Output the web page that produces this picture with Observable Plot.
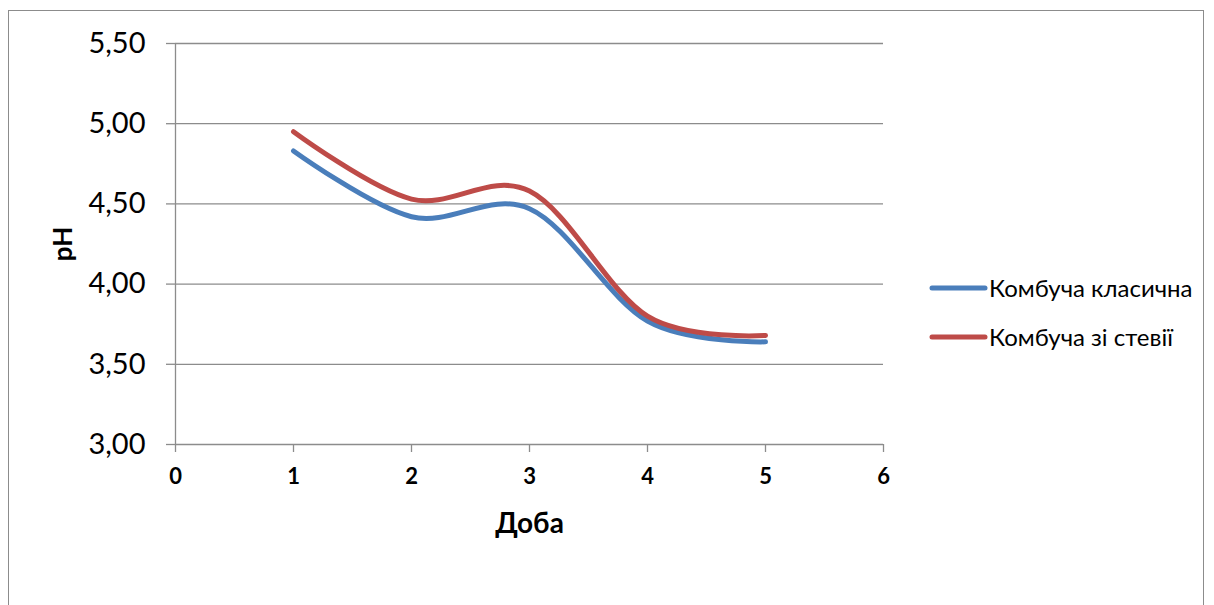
<!DOCTYPE html>
<html>
<head>
<meta charset="utf-8">
<script src="https://cdn.jsdelivr.net/npm/d3@7"></script>
<script src="https://cdn.jsdelivr.net/npm/@observablehq/plot@0.6"></script>
<style>
  body { margin: 0; background: #fff; }
  #wrap { position: relative; width: 1214px; height: 605px; overflow: hidden; font-family: Lato, "Open Sans", sans-serif; }
  #frame { position: absolute; left: 8px; top: 10px; width: 1196px; height: 640px; border: 1.5px solid #8c8c8c; box-sizing: border-box; pointer-events: none; }
  #chart { position: absolute; left: 0; top: 0; }
  .leg { position: absolute; left: 928px; display: flex; align-items: center; font-size: 24px; color: #000; white-space: nowrap; }
  .leg svg { margin-right: 1px; }
</style>
</head>
<body>
<div id="wrap">
  <div id="chart"></div>
  <div id="frame"></div>
  <div id="legend"></div>
</div>
<script>
// ---- data ----
const days = [1, 2, 3, 4, 5];
const seriesNames = ["Комбуча класична", "Комбуча зі стевії"];
const classic = [4.83, 4.42, 4.47, 3.77, 3.64];
const stevia = [4.95, 4.53, 4.58, 3.80, 3.68];
const seriesColors = ["#4A7EBB", "#BE4B48"];
const yTicks = [3.0, 3.5, 4.0, 4.5, 5.0, 5.5];
const xTicks = [0, 1, 2, 3, 4, 5, 6];
const xTitle = "Доба";
const yTitle = "pH";

const rows = [];
days.forEach((d, i) => {
  rows.push({day: d, ph: classic[i], s: seriesNames[0]});
});
days.forEach((d, i) => {
  rows.push({day: d, ph: stevia[i], s: seriesNames[1]});
});

const fmt = v => v.toFixed(2).replace(".", ",");
const grid = "#8c8c8c";

const plot = Plot.plot({
  width: 1214,
  height: 605,
  marginLeft: 175,
  marginRight: 331,
  marginTop: 43,
  marginBottom: 161,
  style: {fontFamily: "Lato, 'Open Sans', sans-serif", background: "transparent", overflow: "visible"},
  x: {domain: [0, 6]},
  y: {domain: [3, 5.5]},
  color: {domain: seriesNames, range: seriesColors},
  marks: [
    Plot.ruleY(yTicks, {stroke: grid, strokeWidth: 1.3}),
    Plot.ruleX([0], {stroke: grid, strokeWidth: 1.3}),
    Plot.axisY({ticks: yTicks, tickSize: 9, tickPadding: 21, tickFormat: fmt, stroke: grid, strokeWidth: 1.3,
      label: yTitle, labelAnchor: "center", labelArrow: "none", labelOffset: 122, fill: "#000"}),
    Plot.axisX({ticks: xTicks, tickSize: 8, tickPadding: 16, tickFormat: d => String(d), stroke: grid, strokeWidth: 1.3,
      label: xTitle, labelAnchor: "center", labelArrow: "none", labelOffset: 88, fill: "#000"}),
    Plot.line(rows, {x: "day", y: "ph", z: "s", stroke: "s", strokeWidth: 5, curve: "cardinal", strokeLinecap: "round"})
  ]
});
document.getElementById("chart").appendChild(plot);

const svg = d3.select(plot);
svg.selectAll('g[aria-label="y-axis tick label"] text').style("font-size", "29px").style("fill", "#000");
svg.selectAll('g[aria-label="x-axis tick label"] text').style("font-size", "22px").style("font-weight", "bold").style("fill", "#000");
svg.selectAll('g[aria-label="y-axis label"] text').style("font-size", "26px").style("font-weight", "bold").style("fill", "#000");
svg.selectAll('g[aria-label="x-axis label"] text').style("font-size", "28px").style("font-weight", "bold").style("fill", "#000");

// legend
const legend = document.getElementById("legend");
const legTops = [287, 336];
seriesNames.forEach((name, i) => {
  const row = document.createElement("div");
  row.className = "leg";
  row.style.top = (legTops[i] - 14) + "px";
  row.innerHTML = `<svg width="60" height="28"><line x1="4" y1="14" x2="57" y2="14" stroke="${seriesColors[i]}" stroke-width="5" stroke-linecap="round"/></svg><span>${name}</span>`;
  legend.appendChild(row);
});
</script>
</body>
</html>
